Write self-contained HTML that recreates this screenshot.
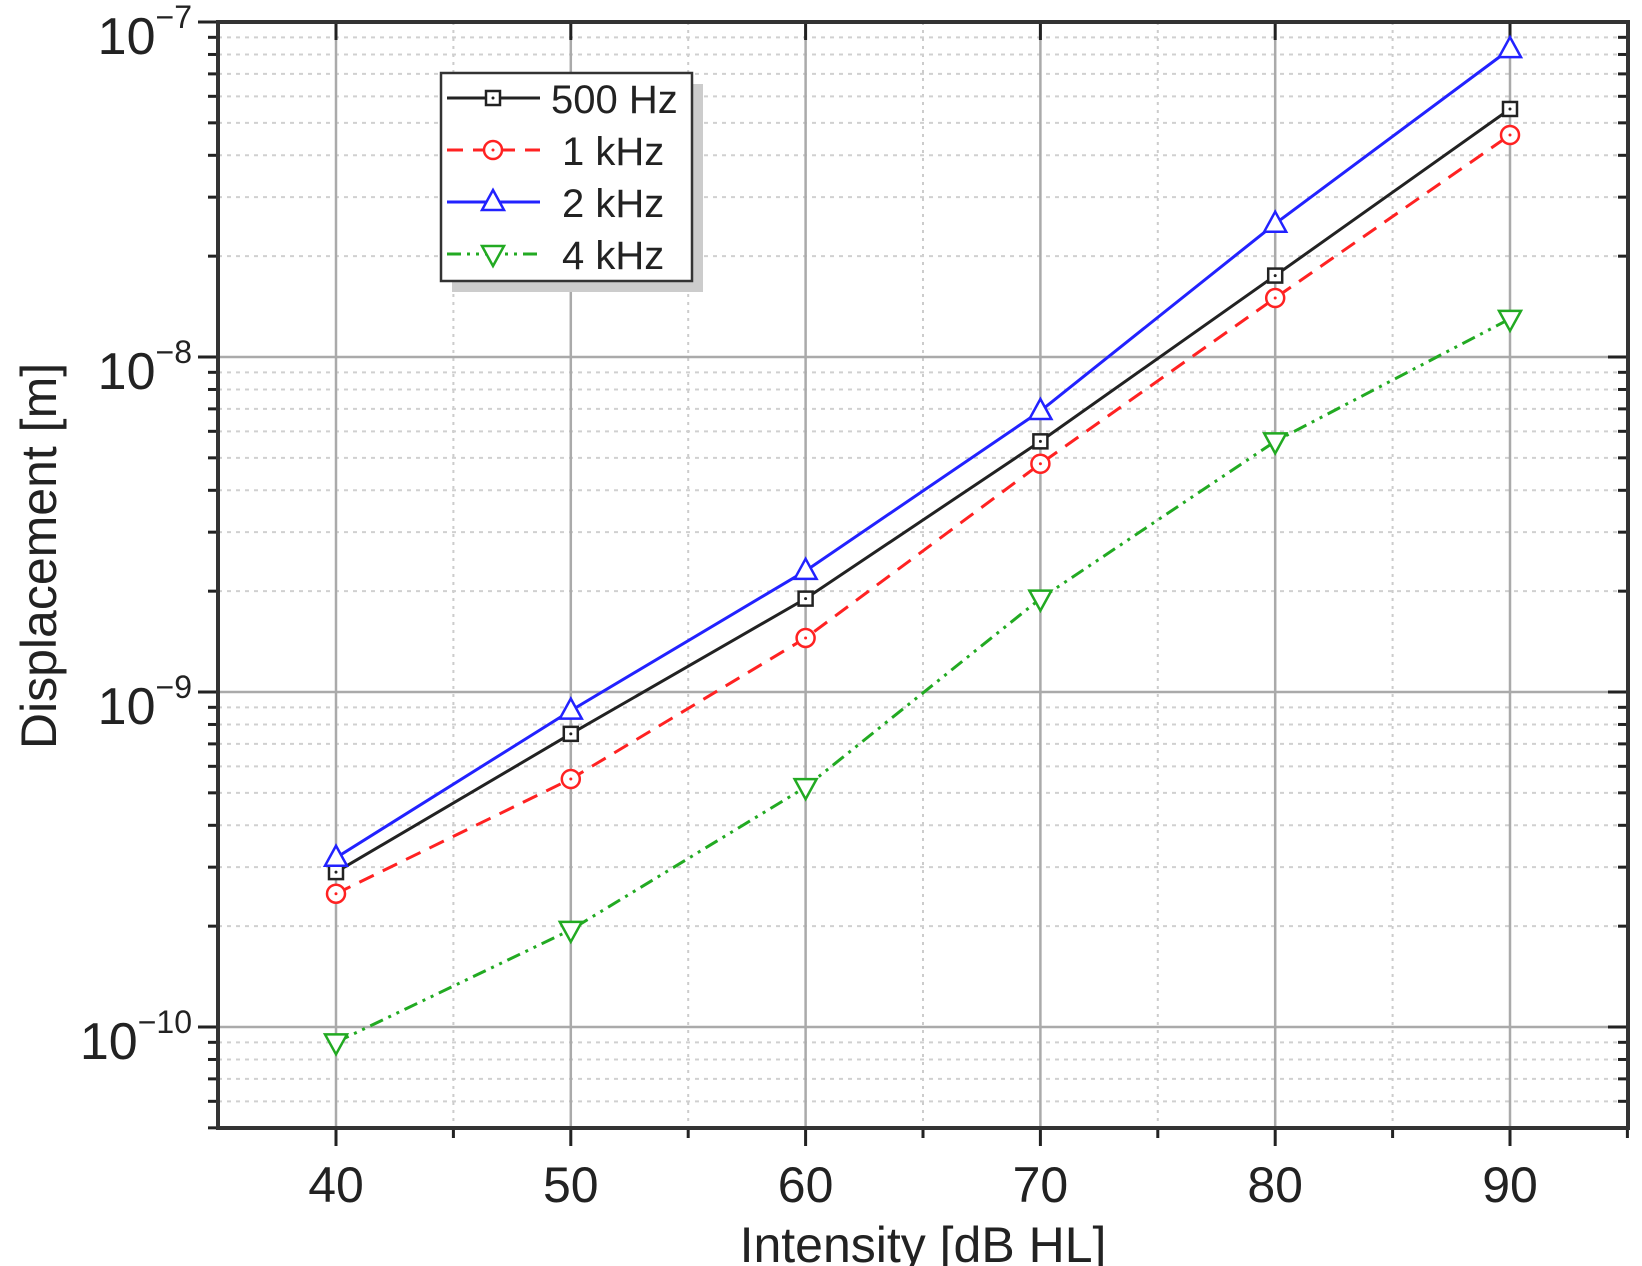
<!DOCTYPE html>
<html><head><meta charset="utf-8"><style>
html,body{margin:0;padding:0;background:#fff;}
svg{display:block;font-family:"Liberation Sans",Arial,sans-serif;}
</style></head><body>
<svg id="s" width="1642" height="1266" xmlns="http://www.w3.org/2000/svg"></svg>
<script>
const s=document.getElementById('s');
const L=218,R=1628,T=22,B=1128;
const X=v=>336+(v-40)*23.48;
const Y=v=>22+(-7-Math.log10(v))*335;
let h='';
for(let v=45;v<=85;v+=10){h+=`<line x1="${X(v)}" y1="${T}" x2="${X(v)}" y2="${B}" stroke="#ccc" stroke-width="2" stroke-dasharray="3,5"/>`;}
for(let e=-11;e<=-8;e++){for(let m=2;m<=9;m++){const v=m*Math.pow(10,e);const y=Y(v);if(y<T||y>B)continue;
h+=`<line x1="${L}" y1="${y}" x2="${R}" y2="${y}" stroke="#d0d0d0" stroke-width="2" stroke-dasharray="4,5"/>`;
h+=`<line x1="${L-10}" y1="${y}" x2="${L}" y2="${y}" stroke="#222" stroke-width="3"/>`;
h+=`<line x1="${R-10}" y1="${y}" x2="${R}" y2="${y}" stroke="#222" stroke-width="3"/>`;}}
for(let v=40;v<=90;v+=10){h+=`<line x1="${X(v)}" y1="${T}" x2="${X(v)}" y2="${B}" stroke="#aaa" stroke-width="2.5"/>`;
h+=`<line x1="${X(v)}" y1="${B}" x2="${X(v)}" y2="${B+18}" stroke="#222" stroke-width="3"/>`;
h+=`<line x1="${X(v)}" y1="${T}" x2="${X(v)}" y2="${T+18}" stroke="#222" stroke-width="3"/>`;
h+=`<text x="${X(v)}" y="${B+74}" font-size="50" text-anchor="middle" fill="#222">${v}</text>`;}
for(let v=45;v<=95;v+=10){h+=`<line x1="${X(v)}" y1="${B}" x2="${X(v)}" y2="${B+10}" stroke="#222" stroke-width="3"/>`;}
for(let e=-10;e<=-7;e++){const y=Y(Math.pow(10,e));
h+=`<line x1="${L}" y1="${y}" x2="${R}" y2="${y}" stroke="#aaa" stroke-width="2.5"/>`;
h+=`<line x1="${L-20}" y1="${y}" x2="${L}" y2="${y}" stroke="#222" stroke-width="3"/>`;
h+=`<line x1="${R-20}" y1="${y}" x2="${R}" y2="${y}" stroke="#222" stroke-width="3"/>`;
h+=`<text x="192" y="${y+32}" font-size="52" text-anchor="end" fill="#222">10<tspan dy="-26" font-size="32">−${-e}</tspan></text>`;}
h+=`<rect x="${L}" y="${T}" width="${R-L}" height="${B-T}" fill="none" stroke="#333" stroke-width="4"/>`;
h+=`<text x="923" y="1262" font-size="50" text-anchor="middle" fill="#222">Intensity [dB HL]</text>`;
h+=`<text transform="translate(56,556) rotate(-90)" font-size="50" text-anchor="middle" fill="#222">Displacement [m]</text>`;
const xs=[40,50,60,70,80,90];
const ser=[
{c:'#222',d:'',m:'sq',v:[2.9e-10,7.5e-10,1.9e-9,5.6e-9,1.75e-8,5.5e-8]},
{c:'#f22',d:'16,10',m:'ci',v:[2.5e-10,5.5e-10,1.45e-9,4.8e-9,1.5e-8,4.6e-8]},
{c:'#22f',d:'',m:'up',v:[3.2e-10,8.8e-10,2.3e-9,6.9e-9,2.5e-8,8.3e-8]},
{c:'#2a2',d:'14,6,3,6,3,6',m:'dn',v:[0.9e-10,1.95e-10,5.2e-10,1.9e-9,5.6e-9,1.3e-8]}];
function mk(m,x,y,c){
 if(m=='sq')return `<rect x="${x-7}" y="${y-7}" width="14" height="14" fill="#fff" stroke="${c}" stroke-width="2.5"/><circle cx="${x}" cy="${y}" r="1.5" fill="${c}"/>`;
 if(m=='ci')return `<circle cx="${x}" cy="${y}" r="9" fill="#fff" stroke="${c}" stroke-width="2.5"/><circle cx="${x}" cy="${y}" r="1.5" fill="${c}"/>`;
 if(m=='up')return `<polygon points="${x},${y-12} ${x-11},${y+8} ${x+11},${y+8}" fill="#fff" stroke="${c}" stroke-width="2.5"/>`;
 return `<polygon points="${x},${y+12} ${x-11},${y-8} ${x+11},${y-8}" fill="#fff" stroke="${c}" stroke-width="2.5"/>`;}
ser.forEach(o=>{const p=xs.map((x,i)=>X(x)+','+Y(o.v[i])).join(' ');
h+=`<polyline points="${p}" fill="none" stroke="${o.c}" stroke-width="3" ${o.d?`stroke-dasharray="${o.d}"`:''}/>`;
xs.forEach((x,i)=>h+=mk(o.m,X(x),Y(o.v[i]),o.c));});
h+=`<rect x="452" y="84" width="251" height="208" fill="#ccc"/>`;
h+=`<rect x="441" y="73" width="251" height="208" fill="#fff" stroke="#333" stroke-width="2.5"/>`;
const lab=['500 Hz','1 kHz','2 kHz','4 kHz'];
ser.forEach((o,i)=>{const y=98+i*52;
h+=`<line x1="447" y1="${y}" x2="540" y2="${y}" stroke="${o.c}" stroke-width="3" ${o.d?`stroke-dasharray="${o.d}"`:''}/>`;
h+=mk(o.m,493,y,o.c);
h+=`<text x="${i==0?551:562}" y="${y+15}" font-size="40" fill="#222">${lab[i]}</text>`;});
s.innerHTML=h;
</script>
</body></html>
